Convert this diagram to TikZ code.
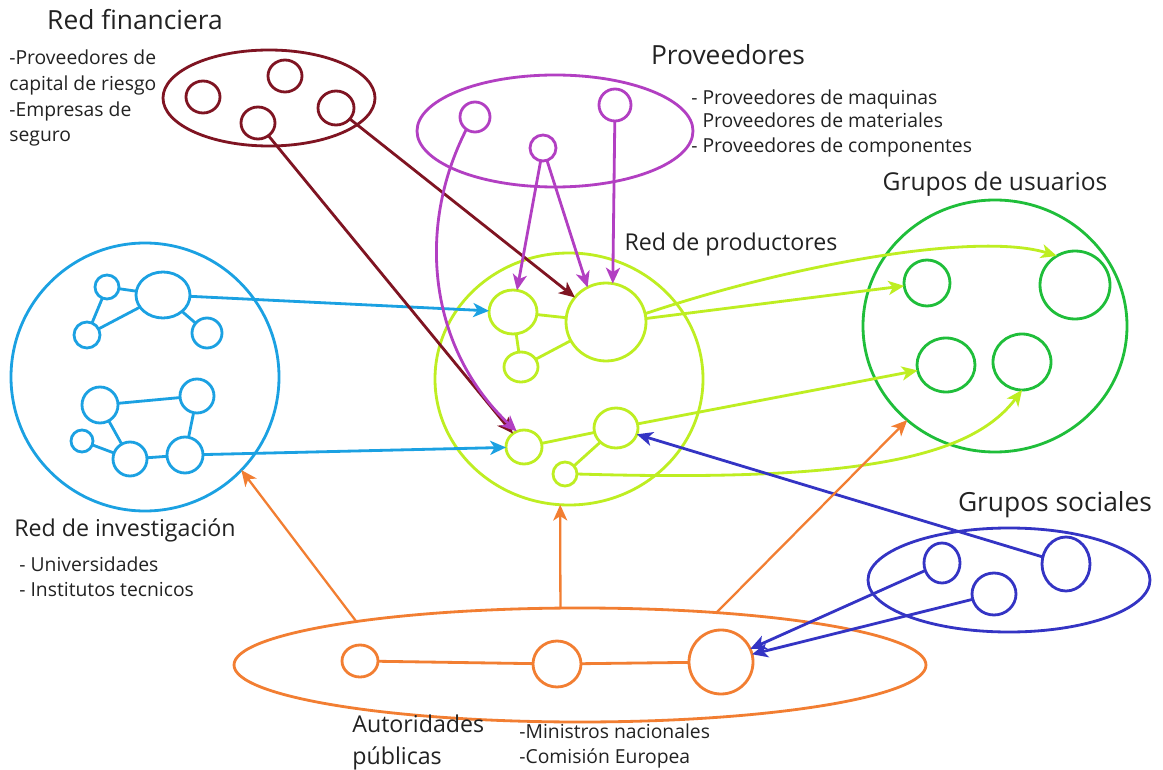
\documentclass[tikz,border=0pt]{standalone}
\usepackage{fontspec}
\setmainfont{Open Sans}
\usetikzlibrary{shapes.geometric,arrows.meta}
\definecolor{cRF}{HTML}{7F1422}
\definecolor{cPV}{HTML}{B23FC2}
\definecolor{cRI}{HTML}{1BA1E2}
\definecolor{cRP}{HTML}{BEEE22}
\definecolor{cGU}{HTML}{1FBE3A}
\definecolor{cGS}{HTML}{3434C4}
\definecolor{cAP}{HTML}{F27E32}
\definecolor{txt}{HTML}{222222}
\newcommand\El[5]{\node[ell,#5,minimum width=#3*0.02cm,minimum height=#4*0.02cm] (#1) at #2 {};}
\tikzset{
  ell/.style={ellipse,draw,line width=1.6pt,inner sep=0pt,outer sep=0pt,fill=none},
  conn/.style={line width=1.6pt},
  arr/.style={line width=1.6pt,-{Stealth[length=9pt,width=8pt,inset=2.5pt]}},
  big/.style={text=txt,font=\fontsize{15}{18}\selectfont,inner sep=0pt},
  mid/.style={text=txt,font=\fontsize{13.2}{16}\selectfont,inner sep=0pt},
  small/.style={text=txt,font=\fontsize{11}{13}\selectfont,inner sep=0pt,anchor=base west},
}
\begin{document}
\begin{tikzpicture}[x=0.02cm,y=-0.02cm]
\useasboundingbox[fill=white] (0,0) rectangle (1163,770);

% ---- Red financiera
\El{RF}{(269,98)}{212}{96}{cRF}
\El{rf1}{(203,97)}{34}{32}{cRF}
\El{rf2}{(285,76)}{34}{32}{cRF}
\El{rf3}{(258,123)}{34}{32}{cRF}
\El{rf4}{(336,108)}{36}{34}{cRF}

% ---- Proveedores
\El{PV}{(555,131)}{276}{112}{cPV}
\El{pv1}{(475,117)}{30}{30}{cPV}
\El{pv2}{(543,148)}{26}{26}{cPV}
\El{pv3}{(615,105)}{32}{32}{cPV}

% ---- Red de investigacion
\El{RI}{(145,377)}{268}{268}{cRI}
\El{ri1}{(107,287)}{24}{24}{cRI}
\El{ri2}{(163,295)}{54}{46}{cRI}
\El{ri3}{(87,335)}{26}{26}{cRI}
\El{ri4}{(207,333)}{30}{30}{cRI}
\El{ri5}{(100,405)}{36}{36}{cRI}
\El{ri6}{(197,396)}{34}{34}{cRI}
\El{ri7}{(82,441)}{22}{22}{cRI}
\El{ri8}{(130,459)}{34}{34}{cRI}
\El{ri9}{(185,455)}{36}{36}{cRI}
\draw[conn,cRI] (ri1) -- (ri2);
\draw[conn,cRI] (ri1) -- (ri3);
\draw[conn,cRI] (ri3) -- (ri2);
\draw[conn,cRI] (ri2) -- (ri4);
\draw[conn,cRI] (ri5) -- (ri6);
\draw[conn,cRI] (ri6) -- (ri9);
\draw[conn,cRI] (ri5) -- (ri8);
\draw[conn,cRI] (ri7) -- (ri8);
\draw[conn,cRI] (ri8) -- (ri9);

% ---- Red de productores
\El{RP}{(569,379)}{268}{252}{cRP}
\El{A}{(513,312)}{48}{44}{cRP}
\El{B}{(606,322)}{80}{78}{cRP}
\El{C}{(521,367)}{34}{30}{cRP}
\El{D}{(616,428)}{44}{40}{cRP}
\El{E}{(524,447)}{36}{34}{cRP}
\El{F}{(565,474)}{24}{24}{cRP}
\draw[conn,cRP] (A) -- (B);
\draw[conn,cRP] (A) -- (C);
\draw[conn,cRP] (C) -- (B);
\draw[conn,cRP] (E) -- (D);
\draw[conn,cRP] (F) -- (D);

% ---- Grupos de usuarios
\El{GU}{(995,326)}{264}{252}{cGU}
\El{gu1}{(927,283)}{46}{46}{cGU}
\El{gu2}{(1075,285)}{70}{68}{cGU}
\El{gu3}{(946,365)}{58}{54}{cGU}
\El{gu4}{(1022,362)}{58}{56}{cGU}

% ---- Grupos sociales
\El{GS}{(1009,580)}{282}{104}{cGS}
\El{gs1}{(942,563)}{36}{40}{cGS}
\El{gs2}{(994,594)}{44}{42}{cGS}
\El{gs3}{(1066,564)}{48}{54}{cGS}

% ---- Autoridades publicas
\El{AP}{(580,665)}{692}{114}{cAP}
\El{ap1}{(360,661)}{36}{32}{cAP}
\El{ap2}{(557,664)}{48}{46}{cAP}
\El{ap3}{(721,662)}{64}{64}{cAP}
\draw[conn,cAP] (ap1) -- (ap2);
\draw[conn,cAP] (ap2) -- (ap3);

% ---- arrows
\draw[arr,cRI] (ri2) -- (A);
\draw[arr,cRI] (ri9) -- (E);
\draw[arr,cRF] (rf3) -- (E);
\draw[arr,cRF] (rf4) -- (B);
\draw[arr,cPV] (pv2) -- (A);
\draw[arr,cPV] (pv2) -- (B.118);
\draw[arr,cPV] (pv3) -- (B.80);
\draw[arr,cPV] (pv1.235) .. controls (415,230) and (430,350) .. (E.115);
\draw[arr,cRP] (B.12) .. controls (800,262) and (980,232) .. (gu2.122);
\draw[arr,cRP] (B.5) -- (gu1);
\draw[arr,cRP] (D) -- (gu3);
\draw[arr,cRP] (F.east) .. controls (850,482) and (970,460) .. (gu4.south);
\draw[arr,cGS] (gs3) -- (D);
\draw[arr,cGS] (gs1) -- (ap3);
\draw[arr,cGS] (gs2) -- (ap3);
\draw[arr,cAP,line width=1.3pt] (AP.169) -- (RI.316);
\draw[arr,cAP,line width=1.3pt] (AP.109) -- (RP.266);
\draw[arr,cAP,line width=1.3pt] (AP.21) -- (GU.227);

% ---- texts
\node[big] (tRF) at (135,20) {Red financiera};
\node[small] (dRF1) at (9,65) {-Proveedores de};
\node[small] (dRF2) at (9,91) {capital de riesgo};
\node[small] (dRF3) at (9,117) {-Empresas de};
\node[small] (dRF4) at (9,142) {seguro};
\node[big] (tPV) at (728,55) {Proveedores};
\node[small] (dPV1) at (691,105) {- Proveedores de maquinas};
\node[small] (dPV2) at (691,128) {\phantom{- }Proveedores de materiales};
\node[small] (dPV3) at (691,153) {- Proveedores de componentes};
\node[big,font=\fontsize{14}{17}\selectfont] (tGU) at (995,184) {Grupos de usuarios};
\node[mid] (tRP) at (731,244) {Red de productores};
\node[mid] (tRI) at (125,530) {Red de investigación};
\node[small] (dRI1) at (19,571) {- Universidades};
\node[small] (dRI2) at (19,596) {- Institutos tecnicos};
\node[big] (tGS) at (1055,505) {Grupos sociales};
\node[mid,anchor=base west] (tAP1) at (352,732) {Autoridades};
\node[mid,anchor=base west] (tAP2) at (352,764) {públicas};
\node[small] (dAP1) at (519,738) {-Ministros nacionales};
\node[small] (dAP2) at (519,763) {-Comisión Europea};
\end{tikzpicture}
\end{document}
